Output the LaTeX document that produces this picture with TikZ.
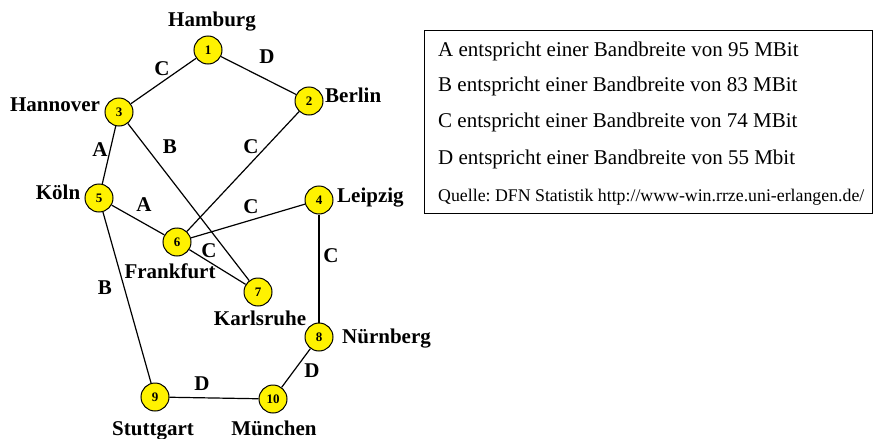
\documentclass[tikz,border=0pt]{standalone}
\usepackage{fontspec}
\setmainfont{Liberation Serif}
\frenchspacing
\begin{document}
\begin{tikzpicture}[x=1pt,y=-1pt,
  city/.style={circle,draw=black,line width=1pt,fill=yellow,minimum size=28pt,inner sep=0pt,font=\fontsize{13}{15}\selectfont\bfseries},
  cname/.style={anchor=base,inner sep=0pt,font=\fontsize{21}{25}\selectfont\bfseries},
  elabel/.style={anchor=base,inner sep=0pt,font=\fontsize{21}{25}\selectfont\bfseries},
  link/.style={line width=1.2pt,black},
  legtext/.style={anchor=base west,inner sep=0pt,font=\fontsize{21}{25}\selectfont},
  legsmall/.style={anchor=base west,inner sep=0pt,font=\fontsize{17.8}{21}\selectfont}]
\useasboundingbox (0,0) rectangle (873,439);
% cities
\node[city] (n1) at (208,50) {1};
\node[city] (n2) at (309,101) {2};
\node[city] (n3) at (119,112) {3};
\node[city] (n4) at (319,200) {4};
\node[city] (n5) at (99,198) {5};
\node[city] (n6) at (177,242) {6};
\node[city] (n7) at (258,292) {7};
\node[city] (n8) at (319,337) {8};
\node[city] (n9) at (155,397) {9};
\node[city] (n10) at (273,399) {10};
% links
\draw[link] (n1) -- (n3);
\draw[link] (n1) -- (n2);
\draw[link] (n3) -- (n5);
\draw[link] (n3) -- (n7);
\draw[link] (n2) -- (n6);
\draw[link] (n5) -- (n6);
\draw[link] (n6) -- (n4);
\draw[link] (n6) -- (n7);
\draw[link] (n4) -- (n8);
\draw[link] (n5) -- (n9);
\draw[link] (n9) -- (n10);
\draw[link] (n8) -- (n10);
% city names
\node[cname] (lHamburg) at (212,27) {Hamburg};
\node[cname,anchor=base west] (lBerlin) at (325,102) {Berlin};
\node[cname] (lHannover) at (55,111) {Hannover};
\node[cname] (lKoeln) at (58,199) {Köln};
\node[cname,anchor=base west] (lLeipzig) at (337,202) {Leipzig};
\node[cname] (lFrankfurt) at (170,278) {Frankfurt};
\node[cname] (lKarlsruhe) at (260,325) {Karlsruhe};
\node[cname,anchor=base west] (lNuernberg) at (342,343) {Nürnberg};
\node[cname] (lStuttgart) at (153,435) {Stuttgart};
\node[cname] (lMuenchen) at (274,435) {München};
% link labels
\node[elabel] (e13) at (162,75) {C};
\node[elabel] (e12) at (267,63) {D};
\node[elabel] (e35) at (100,156) {A};
\node[elabel] (e37) at (170,153) {B};
\node[elabel] (e26) at (251,153) {C};
\node[elabel] (e56) at (144,211) {A};
\node[elabel] (e64) at (251,213) {C};
\node[elabel] (e67) at (209,257) {C};
\node[elabel] (e48) at (331,262) {C};
\node[elabel] (e59) at (105,294) {B};
\node[elabel] (e910) at (202,390) {D};
\node[elabel] (e810) at (312,377) {D};
% legend
\draw[line width=1pt] (424,30) rectangle (872,213);
\node[legtext] (lgA) at (438,56) {A entspricht einer Bandbreite von 95 MBit};
\node[legtext] (lgB) at (438,91.5) {B entspricht einer Bandbreite von 83 MBit};
\node[legtext] (lgC) at (438,127.5) {C entspricht einer Bandbreite von 74 MBit};
\node[legtext] (lgD) at (438,164) {D entspricht einer Bandbreite von 55 Mbit};
\node[legsmall] (lgQ) at (438,201.5) {Quelle: DFN Statistik http://www-win.rrze.uni-erlangen.de/};
\end{tikzpicture}
\end{document}
